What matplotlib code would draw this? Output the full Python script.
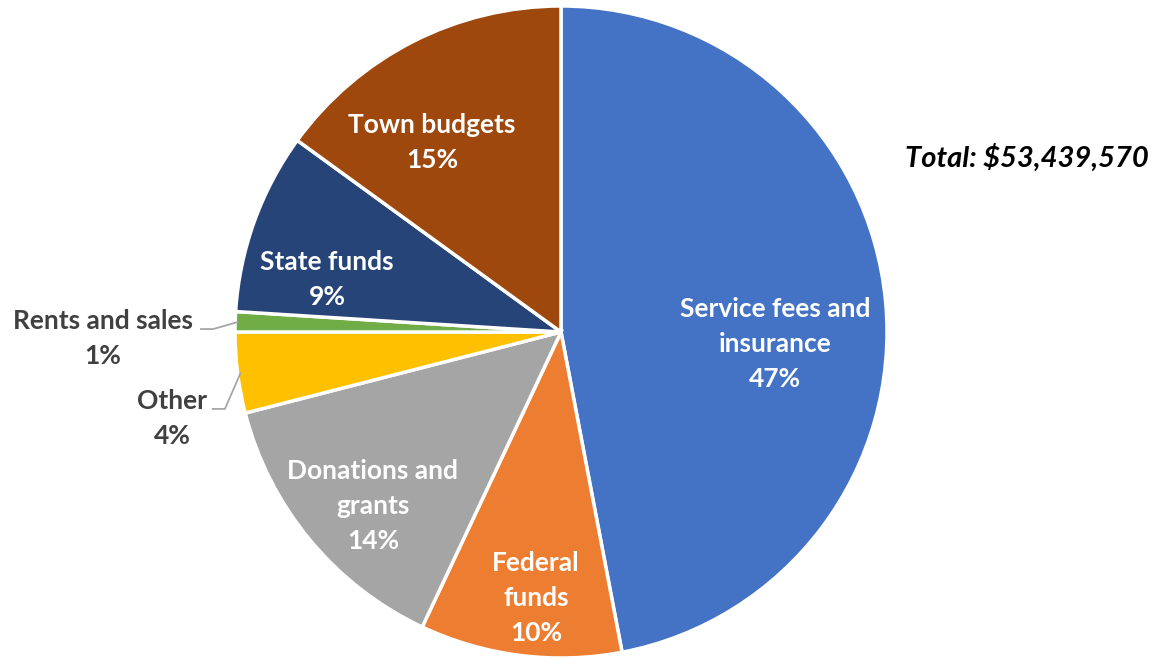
import numpy as np
import matplotlib.pyplot as plt

# revenue sources, share of total (%)
sources = ["Service fees and\ninsurance", "Federal\nfunds", "Donations and\ngrants",
           "Other", "Rents and sales", "State funds", "Town budgets"]
shares = [47, 10, 14, 4, 1, 9, 15]
colors = ["#4472C4", "#ED7D31", "#A5A5A5", "#FFC000", "#70AD47", "#264478", "#9E480E"]
total = 53439570

# label placement, in units of pie radius
label_pos = [(0.656, -0.037), (-0.077, -0.816), (-0.577, -0.534),
             (-1.193, -0.264), (-1.405, -0.021), (-0.718, 0.160), (-0.396, 0.580)]
# start of the leader line for labels set outside the pie
leader_start = {"Other": (-1.071, -0.236), "Rents and sales": (-1.107, 0.009)}

plt.rcParams['font.family'] = ['Lato', 'DejaVu Sans']

W, H = 1161, 660
fig = plt.figure(figsize=(W / 100, H / 100), dpi=100)
ax = fig.add_axes([0, 0, 1, 1])
cx, cy, R = 561, 332, 326

wedges, _ = ax.pie(shares, colors=colors, startangle=90, counterclock=False,
                   radius=1.0, center=(0, 0), frame=False,
                   wedgeprops=dict(edgecolor='white', linewidth=2.5))
ax.set_xlim(-cx / R, (W - cx) / R)
ax.set_ylim((cy - H) / R, cy / R)
ax.set_aspect('auto')
ax.axis('off')

for w, name, val, (lx, ly) in zip(wedges, sources, shares, label_pos):
    out = name in leader_start
    col = '#404040' if out else 'white'
    ax.text(lx, ly, f"{name}\n{val}%", ha='center', va='center', color=col,
            fontsize=19, fontweight='bold', linespacing=1.55)
    if out:
        # leader line from label to the wedge edge
        ang = np.deg2rad((w.theta1 + w.theta2) / 2)
        ex, ey = 0.99 * np.cos(ang), 0.99 * np.sin(ang)
        x0, y0 = leader_start[name]
        ax.plot([x0, x0 + 0.04, ex], [y0, y0, ey], color='#A6A6A6', lw=1.3,
                solid_capstyle='butt')

ax.text(1.429, 0.534, f"Total: ${total:,}", ha='center', va='center',
        fontsize=21, fontweight='bold', fontstyle='italic', color='black')

fig.savefig('out.png', dpi=100)
